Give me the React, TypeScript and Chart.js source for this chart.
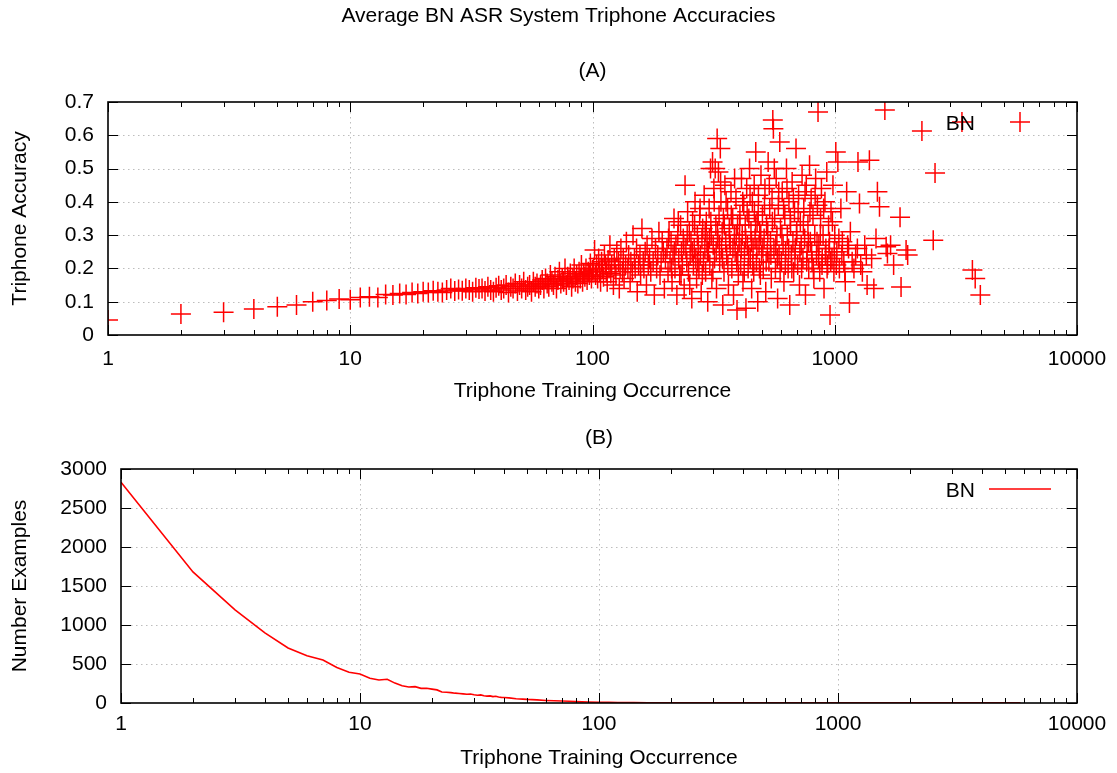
import React, { useEffect, useRef } from "react";
import { Chart, registerables } from "chart.js";

Chart.register(...registerables);

const FONT_FAMILY = "'Liberation Sans', Arial, Helvetica, sans-serif";
const FONT_SIZE = 21;

const mainTitle = "Average BN ASR System Triphone Accuracies";
const panelATitle = "(A)";
const panelBTitle = "(B)";
const xAxisTitle = "Triphone Training Occurrence";
const yAxisTitleA = "Triphone Accuracy";
const yAxisTitleB = "Number Examples";
const seriesName = "BN";

const xTickValues = [1, 10, 100, 1000, 10000];
const yTickValuesA = [0, 0.1, 0.2, 0.3, 0.4, 0.5, 0.6, 0.7];
const yTickValuesB = [0, 500, 1000, 1500, 2000, 2500, 3000];

// (occurrence, accuracy) pairs
const accuracyPoints: [number, number][] = [
  [1, 0.045], [2, 0.063], [3, 0.068], [4, 0.078], [5, 0.085], [6, 0.09], [7, 0.1], [8, 0.104],
  [9, 0.108], [10, 0.106], [11, 0.113], [12, 0.115], [13, 0.113], [14, 0.122], [15, 0.12], [16, 0.125],
  [17, 0.122], [18, 0.128], [19, 0.125], [20, 0.13], [21, 0.128], [22, 0.133], [23, 0.13], [24, 0.128],
  [25, 0.135], [26, 0.14], [27, 0.132], [28, 0.137], [29, 0.133], [30, 0.14], [31, 0.135], [32, 0.13],
  [33, 0.142], [34, 0.138], [35, 0.14], [36, 0.132], [37, 0.145], [38, 0.135], [39, 0.13], [40, 0.142],
  [41, 0.148], [42, 0.135], [43, 0.14], [44, 0.15], [45, 0.128], [46, 0.145], [47, 0.14], [48, 0.155],
  [49, 0.132], [50, 0.15], [51, 0.14], [52, 0.16], [53, 0.135], [54, 0.145], [55, 0.15], [56, 0.13],
  [57, 0.16], [58, 0.145], [59, 0.155], [60, 0.14], [61, 0.15], [62, 0.165], [63, 0.14], [64, 0.17],
  [65, 0.155], [66, 0.145], [67, 0.18], [68, 0.16], [69, 0.15], [70, 0.175], [71, 0.14], [72, 0.165],
  [73, 0.19], [74, 0.155], [75, 0.17], [76, 0.16], [77, 0.2], [78, 0.15], [79, 0.175], [80, 0.165],
  [81, 0.185], [82, 0.145], [83, 0.17], [84, 0.2], [85, 0.16], [86, 0.18], [87, 0.155], [88, 0.19],
  [89, 0.17], [90, 0.21], [91, 0.16], [92, 0.185], [93, 0.175], [94, 0.2], [95, 0.165], [96, 0.19],
  [97, 0.18], [98, 0.215], [99, 0.17], [100, 0.195],
  [101, 0.2], [102, 0.255], [103, 0.18], [104, 0.21], [105, 0.17], [106, 0.23], [107, 0.19], [108, 0.16],
  [109, 0.22], [110, 0.2], [111, 0.175], [112, 0.24], [113, 0.21], [114, 0.19], [115, 0.16], [116, 0.225],
  [117, 0.2], [118, 0.27], [119, 0.185], [120, 0.21], [122, 0.15], [123, 0.23], [124, 0.2], [125, 0.18],
  [126, 0.25], [128, 0.22], [129, 0.14], [130, 0.2], [131, 0.26], [133, 0.19], [134, 0.23], [135, 0.17],
  [137, 0.21], [138, 0.28], [140, 0.2], [141, 0.24], [143, 0.16], [144, 0.22], [146, 0.19], [147, 0.3],
  [149, 0.23], [150, 0.2], [152, 0.26], [153, 0.13], [155, 0.21], [157, 0.24], [158, 0.18], [160, 0.32],
  [162, 0.22], [163, 0.2], [165, 0.25], [167, 0.15], [168, 0.27], [170, 0.21], [172, 0.23], [174, 0.19],
  [176, 0.29], [178, 0.22], [180, 0.12], [182, 0.26], [184, 0.2], [186, 0.24], [188, 0.31], [190, 0.18],
  [192, 0.22], [194, 0.28], [196, 0.25], [198, 0.14], [200, 0.23],
  [203, 0.26], [205, 0.19], [206, 0.29], [207, 0.31], [209, 0.22], [211, 0.28], [212, 0.2], [213, 0.16],
  [215, 0.24], [217, 0.35], [218, 0.25], [219, 0.2], [221, 0.27], [223, 0.12], [225, 0.3], [226, 0.34],
  [227, 0.23], [229, 0.18], [231, 0.33], [232, 0.18], [233, 0.25], [235, 0.21], [237, 0.29], [238, 0.27],
  [239, 0.14], [241, 0.45], [243, 0.26], [245, 0.22], [246, 0.3], [247, 0.37], [249, 0.19], [251, 0.31],
  [252, 0.15], [253, 0.24], [255, 0.28], [257, 0.11], [258, 0.25], [259, 0.34], [261, 0.21], [263, 0.26],
  [264, 0.33], [265, 0.4], [267, 0.23], [269, 0.17], [271, 0.3], [272, 0.22], [273, 0.27], [275, 0.2],
  [277, 0.36], [278, 0.38], [279, 0.24], [281, 0.13], [283, 0.29], [284, 0.18], [285, 0.32], [287, 0.22],
  [289, 0.42], [291, 0.26], [292, 0.31], [293, 0.19], [295, 0.34], [297, 0.28], [298, 0.25], [299, 0.1],
  [301, 0.25], [303, 0.38], [304, 0.29], [305, 0.21], [307, 0.5], [308, 0.34], [309, 0.3], [311, 0.17],
  [313, 0.52], [314, 0.19], [315, 0.27], [317, 0.44], [318, 0.4], [319, 0.23], [321, 0.5], [323, 0.33],
  [324, 0.25], [325, 0.14], [327, 0.59], [328, 0.31], [329, 0.29], [331, 0.49], [333, 0.36], [334, 0.27],
  [335, 0.22], [337, 0.56], [338, 0.46], [339, 0.4], [341, 0.26], [343, 0.31], [344, 0.23], [345, 0.09],
  [347, 0.35], [349, 0.19], [350, 0.33], [352, 0.45], [355, 0.28], [356, 0.4], [358, 0.24], [361, 0.38],
  [362, 0.21], [364, 0.15], [367, 0.32], [368, 0.29], [370, 0.27], [373, 0.43], [374, 0.36], [376, 0.2],
  [379, 0.35], [380, 0.26], [382, 0.12], [385, 0.3], [386, 0.47], [388, 0.25], [391, 0.41], [392, 0.3],
  [394, 0.22], [395, 0.075], [397, 0.33], [398, 0.24], [400, 0.18],
  [403, 0.28], [405, 0.33], [406, 0.36], [409, 0.21], [411, 0.26], [412, 0.47], [415, 0.3], [417, 0.4],
  [418, 0.16], [421, 0.39], [423, 0.19], [424, 0.25], [427, 0.33], [429, 0.29], [430, 0.08], [433, 0.44],
  [435, 0.37], [436, 0.27], [439, 0.2], [441, 0.24], [442, 0.35], [445, 0.5], [447, 0.42], [448, 0.23],
  [451, 0.31], [453, 0.28], [454, 0.14], [457, 0.4], [459, 0.21], [460, 0.26], [463, 0.19], [465, 0.45],
  [466, 0.37], [469, 0.29], [471, 0.33], [472, 0.55], [475, 0.22], [477, 0.26], [478, 0.34], [481, 0.1],
  [483, 0.36], [484, 0.42], [487, 0.27], [489, 0.2], [490, 0.31], [493, 0.18], [495, 0.3], [496, 0.48],
  [499, 0.24], [503, 0.36], [505, 0.26], [507, 0.2], [511, 0.29], [513, 0.39], [515, 0.44], [519, 0.13],
  [521, 0.22], [523, 0.33], [527, 0.25], [529, 0.31], [531, 0.52], [535, 0.22], [537, 0.45], [539, 0.38],
  [543, 0.28], [545, 0.24], [547, 0.17], [551, 0.41], [553, 0.34], [555, 0.646], [558, 0.62], [561, 0.26],
  [563, 0.5], [565, 0.35], [569, 0.2], [571, 0.27], [573, 0.47], [577, 0.3], [579, 0.23], [581, 0.11],
  [585, 0.39], [587, 0.43], [589, 0.24], [593, 0.58], [595, 0.19], [597, 0.32],
  [602, 0.22], [605, 0.3], [607, 0.43], [612, 0.27], [615, 0.38], [617, 0.16], [622, 0.36], [625, 0.21],
  [627, 0.25], [632, 0.5], [635, 0.44], [637, 0.3], [642, 0.2], [645, 0.26], [647, 0.4], [652, 0.09],
  [655, 0.35], [657, 0.33], [662, 0.24], [665, 0.2], [667, 0.46], [672, 0.28], [675, 0.41], [677, 0.19],
  [682, 0.37], [685, 0.23], [687, 0.26], [692, 0.56], [695, 0.3], [697, 0.31], [703, 0.21], [706, 0.37],
  [709, 0.42], [715, 0.15], [718, 0.25], [721, 0.34], [727, 0.27], [730, 0.2], [733, 0.48], [739, 0.23],
  [742, 0.33], [745, 0.38], [751, 0.29], [754, 0.43], [757, 0.12], [763, 0.45], [766, 0.22], [769, 0.25],
  [775, 0.33], [778, 0.28], [781, 0.2], [787, 0.51], [790, 0.37], [793, 0.28], [799, 0.41], [803, 0.25],
  [806, 0.22], [813, 0.36], [816, 0.2], [820, 0.17], [827, 0.3], [830, 0.42], [834, 0.47], [841, 0.24],
  [845, 0.28], [848, 0.39], [853, 0.67], [858, 0.23], [860, 0.27], [867, 0.19], [872, 0.3], [874, 0.35],
  [881, 0.44], [886, 0.21], [888, 0.23], [895, 0.3], [900, 0.38], [903, 0.14], [911, 0.4], [915, 0.24],
  [919, 0.26], [927, 0.49], [930, 0.2], [935, 0.21], [943, 0.33], [947, 0.26], [951, 0.28], [956, 0.06],
  [962, 0.22], [965, 0.37], [974, 0.23], [978, 0.34], [983, 0.45], [992, 0.19], [995, 0.25], [1000, 0.3],
  [1010, 0.55], [1015, 0.21], [1020, 0.25], [1030, 0.52], [1040, 0.29], [1045, 0.2], [1060, 0.38], [1070, 0.24],
  [1075, 0.28], [1090, 0.22], [1100, 0.19], [1105, 0.16], [1120, 0.43], [1130, 0.27], [1140, 0.26], [1150, 0.096],
  [1160, 0.31], [1180, 0.22], [1200, 0.2], [1220, 0.24], [1240, 0.26], [1247, 0.52], [1265, 0.395], [1280, 0.21],
  [1300, 0.19], [1330, 0.27], [1350, 0.24], [1360, 0.15], [1390, 0.525], [1420, 0.23], [1450, 0.14], [1480, 0.29],
  [1500, 0.43], [1530, 0.385], [1610, 0.676], [1630, 0.265], [1650, 0.245], [1700, 0.27], [1750, 0.21], [1860, 0.354],
  [1878, 0.144], [1970, 0.255], [2000, 0.24], [2290, 0.613], [2550, 0.285], [2594, 0.487], [3350, 0.64], [3700, 0.195],
  [3800, 0.17], [3990, 0.12],
];

// panel (B): number of examples per training occurrence
const countOccurrence = [
  1, 2, 3, 4, 5, 6, 7, 8, 9, 10, 11, 12, 13, 14, 15, 16, 17, 18, 19, 20,
  21, 22, 23, 24, 25, 26, 27, 28, 29, 30, 31, 32, 33, 34, 35, 36, 37, 38, 39, 40,
  42, 45, 48, 50, 55, 60, 65, 70, 75, 80, 90, 100, 110, 120, 140, 160, 180, 200,
  250, 300, 400, 500, 700, 1000, 1500, 2000, 3000, 4000, 5800,
];
const countExamples = [
  2830, 1680, 1195, 900, 705, 605, 550, 455, 395, 372, 318, 295, 305, 255, 220, 205, 210, 188, 190, 178,
  168, 142, 138, 133, 126, 122, 117, 112, 116, 106, 100, 104, 94, 88, 91, 82, 86, 77, 72, 70,
  66, 55, 50, 46, 40, 33, 28, 25, 22, 18, 13, 10, 8, 7, 5, 4, 4, 3,
  3, 2, 2, 1, 1, 1, 1, 1, 1, 1, 1,
];

const font = { family: FONT_FAMILY, size: FONT_SIZE };

type FrameOpts = {
  xTicks: number[];
  yTicks: number[];
  mainTitle?: string;
  panelTitle: string;
  legend: "point" | "line";
};

function makeFramePlugin(o: FrameOpts) {
  return {
    id: "gnuFrame",
    beforeDatasetsDraw(chart: any) {
      const { ctx, chartArea: ca, scales } = chart;
      const xs = scales.x;
      const ys = scales.y;
      ctx.save();
      ctx.strokeStyle = "#bdbdbd";
      ctx.lineWidth = 1;
      ctx.setLineDash([1.5, 3.5]);
      ctx.beginPath();
      for (const v of o.xTicks) {
        const px = Math.round(xs.getPixelForValue(v)) + 0.5;
        if (px < ca.left + 3 || px > ca.right - 3) continue;
        ctx.moveTo(px, ca.top);
        ctx.lineTo(px, ca.bottom);
      }
      for (const v of o.yTicks) {
        const py = Math.round(ys.getPixelForValue(v)) + 0.5;
        if (py < ca.top + 3 || py > ca.bottom - 3) continue;
        ctx.moveTo(ca.left, py);
        ctx.lineTo(ca.right, py);
      }
      ctx.stroke();
      ctx.restore();
    },
    afterDraw(chart: any) {
      const { ctx, chartArea: ca, scales } = chart;
      const xs = scales.x;
      const ys = scales.y;
      ctx.save();
      ctx.strokeStyle = "#000";
      ctx.lineWidth = 1;
      ctx.beginPath();
      // x ticks (major + log minor), inward, bottom and top
      const lo = Math.log10(o.xTicks[0]);
      const hi = Math.log10(o.xTicks[o.xTicks.length - 1]);
      for (let d = lo; d <= hi; d++) {
        for (let m = 1; m <= 9; m++) {
          const v = m * Math.pow(10, d);
          if (v > o.xTicks[o.xTicks.length - 1]) break;
          const len = m === 1 ? 10 : 5;
          const px = Math.round(xs.getPixelForValue(v)) + 0.5;
          ctx.moveTo(px, ca.bottom);
          ctx.lineTo(px, ca.bottom - len);
          ctx.moveTo(px, ca.top);
          ctx.lineTo(px, ca.top + len);
        }
      }
      for (const v of o.yTicks) {
        const py = Math.round(ys.getPixelForValue(v)) + 0.5;
        ctx.moveTo(ca.left, py);
        ctx.lineTo(ca.left + 10, py);
        ctx.moveTo(ca.right, py);
        ctx.lineTo(ca.right - 10, py);
      }
      ctx.stroke();
      // border
      ctx.lineWidth = 1.6;
      ctx.strokeRect(ca.left, ca.top, ca.right - ca.left, ca.bottom - ca.top);

      // titles
      ctx.fillStyle = "#000";
      ctx.font = `${FONT_SIZE}px ${FONT_FAMILY}`;
      ctx.textAlign = "center";
      ctx.textBaseline = "alphabetic";
      if (o.mainTitle) ctx.fillText(o.mainTitle, chart.width / 2, 22);
      ctx.fillText(o.panelTitle, (ca.left + ca.right) / 2, ca.top - 25);

      // legend (text then sample, inside top-right)
      const ly = ca.top + 20;
      ctx.textAlign = "right";
      ctx.fillText(chart.data.datasets[0].label, ca.right - 102, ly + 7.5);
      ctx.strokeStyle = "#ff0000";
      ctx.beginPath();
      if (o.legend === "point") {
        ctx.lineWidth = 1.5;
        const cx = ca.right - 57;
        ctx.moveTo(cx - 10, ly);
        ctx.lineTo(cx + 10, ly);
        ctx.moveTo(cx, ly - 10);
        ctx.lineTo(cx, ly + 10);
      } else {
        ctx.lineWidth = 1.6;
        ctx.moveTo(ca.right - 88, ly);
        ctx.lineTo(ca.right - 26, ly);
      }
      ctx.stroke();
      ctx.restore();
    },
  };
}

function xScale(height: number, tickPad: number, titlePadBottom: number) {
  return {
    type: "logarithmic" as const,
    min: 1,
    max: 10000,
    afterBuildTicks: (s: any) => {
      s.ticks = xTickValues.map((v) => ({ value: v }));
    },
    afterFit: (s: any) => {
      s.height = height;
    },
    grid: { display: false },
    border: { display: false },
    ticks: {
      font,
      color: "#000",
      padding: tickPad,
      maxRotation: 0,
      autoSkip: false,
      callback: (v: any) => String(v),
    },
    title: {
      display: true,
      text: xAxisTitle,
      font,
      color: "#000",
      padding: { top: 0, bottom: titlePadBottom },
    },
  };
}

function yScale(
  min: number,
  max: number,
  ticks: number[],
  width: number,
  tickPad: number,
  title: string,
  fmt: (v: number) => string
) {
  return {
    type: "linear" as const,
    min,
    max,
    afterBuildTicks: (s: any) => {
      s.ticks = ticks.map((v) => ({ value: v }));
    },
    afterFit: (s: any) => {
      s.width = width;
    },
    grid: { display: false },
    border: { display: false },
    ticks: {
      font,
      color: "#000",
      padding: tickPad,
      callback: (v: any) => fmt(Number(v)),
    },
    title: {
      display: true,
      text: title,
      font,
      color: "#000",
      padding: { top: 8, bottom: 0 },
    },
  };
}

export default function App() {
  const refA = useRef<HTMLCanvasElement>(null);
  const refB = useRef<HTMLCanvasElement>(null);

  useEffect(() => {
    if (!refA.current || !refB.current) return;

    const chartA = new Chart(refA.current, {
      type: "scatter",
      data: {
        datasets: [
          {
            label: seriesName,
            data: accuracyPoints.map(([x, y]) => ({ x, y })),
            pointStyle: "cross",
            pointRadius: 10,
            pointHoverRadius: 10,
            borderWidth: 1.5,
            borderColor: "#ff0000",
            backgroundColor: "#ff0000",
          },
        ],
      },
      options: {
        animation: false,
        responsive: false,
        events: [],
        layout: { padding: { left: 0, right: 40, top: 102, bottom: 0 } },
        plugins: { legend: { display: false }, tooltip: { enabled: false } },
        scales: {
          x: xScale(85, 4, 16),
          y: yScale(0, 0.7, yTickValuesA, 108, 6, yAxisTitleA, (v) =>
            v === 0 ? "0" : v.toFixed(1)
          ),
        },
      },
      plugins: [
        makeFramePlugin({
          xTicks: xTickValues,
          yTicks: yTickValuesA,
          mainTitle,
          panelTitle: panelATitle,
          legend: "point",
        }),
      ],
    } as any);

    const chartB = new Chart(refB.current, {
      type: "scatter",
      data: {
        datasets: [
          {
            label: seriesName,
            data: countOccurrence.map((x, i) => ({ x, y: countExamples[i] })),
            showLine: true,
            pointRadius: 0,
            pointHoverRadius: 0,
            borderWidth: 1.6,
            borderColor: "#ff0000",
            backgroundColor: "#ff0000",
            tension: 0,
          },
        ],
      },
      options: {
        animation: false,
        responsive: false,
        events: [],
        layout: { padding: { left: 0, right: 40, top: 49, bottom: 0 } },
        plugins: { legend: { display: false }, tooltip: { enabled: false } },
        scales: {
          x: xScale(70, 1, 2),
          y: yScale(0, 3000, yTickValuesB, 121, 6, yAxisTitleB, (v) => String(v)),
        },
      },
      plugins: [
        makeFramePlugin({
          xTicks: xTickValues,
          yTicks: yTickValuesB,
          panelTitle: panelBTitle,
          legend: "line",
        }),
      ],
    } as any);

    return () => {
      chartA.destroy();
      chartB.destroy();
    };
  }, []);

  return (
    <div
      style={{
        position: "absolute",
        left: 0,
        top: 0,
        width: 1117,
        height: 773,
        background: "#fff",
      }}
    >
      <canvas
        ref={refA}
        width={1117}
        height={420}
        style={{ position: "absolute", left: 0, top: 0, width: 1117, height: 420 }}
      />
      <canvas
        ref={refB}
        width={1117}
        height={353}
        style={{ position: "absolute", left: 0, top: 420, width: 1117, height: 353 }}
      />
    </div>
  );
}
